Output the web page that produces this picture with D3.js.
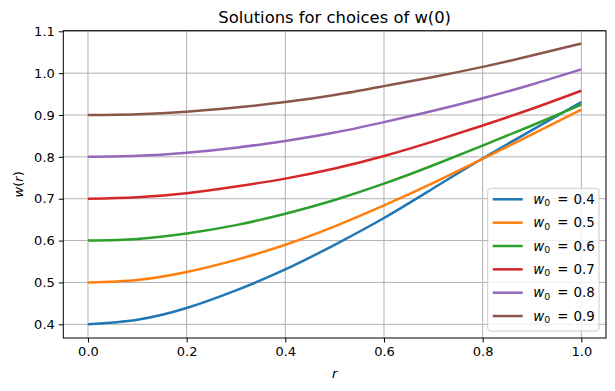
<!DOCTYPE html>
<html>
<head>
<meta charset="utf-8">
<script src="https://cdn.jsdelivr.net/npm/d3@7"></script>
<style>
body { margin: 0; background: #fff; }
svg { font-family: "DejaVu Sans", sans-serif; }
</style>
</head>
<body>
<script>
var width = 615;
var height = 391;

// r samples and the solution curves
var rValues = [0, 0.1, 0.2, 0.3, 0.4, 0.5, 0.6, 0.7, 0.8, 0.9, 1.0];
var w04 = [0.400, 0.411, 0.439, 0.481, 0.531, 0.590, 0.654, 0.725, 0.796, 0.864, 0.931];
var w05 = [0.500, 0.506, 0.525, 0.554, 0.590, 0.634, 0.684, 0.738, 0.795, 0.854, 0.913];
var w06 = [0.600, 0.604, 0.617, 0.637, 0.664, 0.697, 0.736, 0.780, 0.827, 0.875, 0.925];
var w07 = [0.700, 0.7035, 0.713, 0.729, 0.748, 0.772, 0.802, 0.837, 0.875, 0.915, 0.958];
var w08 = [0.800, 0.8025, 0.810, 0.822, 0.838, 0.858, 0.883, 0.910, 0.940, 0.973, 1.009];
var w09 = [0.900, 0.902, 0.908, 0.918, 0.931, 0.948, 0.969, 0.991, 1.015, 1.042, 1.071];

var startValues = ["0.4", "0.5", "0.6", "0.7", "0.8", "0.9"];
var seriesValues = [w04, w05, w06, w07, w08, w09];
var colors = ["#1f77b4", "#ff7f0e", "#2ca02c", "#d62728", "#9467bd", "#8c564b"];

var xTicks = [0, 0.2, 0.4, 0.6, 0.8, 1.0];
var yTicks = [0.4, 0.5, 0.6, 0.7, 0.8, 0.9, 1.0, 1.1];

var margin = {left: 63.3, right: 9, top: 30.7, bottom: 53};

var x = d3.scaleLinear()
    .domain([-0.05, 1.05])
    .range([margin.left, width - margin.right]);
var y = d3.scaleLinear()
    .domain([0.3673, 1.1014])
    .range([height - margin.bottom, margin.top]);

var svg = d3.select("body").append("svg")
    .attr("width", width)
    .attr("height", height);

// grid
svg.append("g").selectAll("line")
    .data(xTicks)
    .enter().append("line")
    .attr("x1", function (d) { return x(d); })
    .attr("x2", function (d) { return x(d); })
    .attr("y1", y.range()[0])
    .attr("y2", y.range()[1])
    .attr("stroke", "#b0b0b0")
    .attr("stroke-width", 1);
svg.append("g").selectAll("line")
    .data(yTicks)
    .enter().append("line")
    .attr("y1", function (d) { return y(d); })
    .attr("y2", function (d) { return y(d); })
    .attr("x1", x.range()[0])
    .attr("x2", x.range()[1])
    .attr("stroke", "#b0b0b0")
    .attr("stroke-width", 1);

// curves
var line = d3.line()
    .x(function (d, i) { return x(rValues[i]); })
    .y(function (d) { return y(d); })
    .curve(d3.curveNatural);

svg.append("g").selectAll("path")
    .data(seriesValues)
    .enter().append("path")
    .attr("d", line)
    .attr("fill", "none")
    .attr("stroke", function (d, i) { return colors[i]; })
    .attr("stroke-width", 2.5);

// axes
var xAxis = svg.append("g")
    .attr("transform", "translate(0," + y.range()[0] + ")")
    .call(d3.axisBottom(x).tickValues(xTicks).tickFormat(d3.format(".1f")).tickSize(4.5).tickPadding(4));
var yAxis = svg.append("g")
    .attr("transform", "translate(" + x.range()[0] + ",0)")
    .call(d3.axisLeft(y).tickValues(yTicks).tickFormat(d3.format(".1f")).tickSize(4.5).tickPadding(4));
[xAxis, yAxis].forEach(function (a) {
    a.select(".domain").remove();
    a.selectAll("text")
	.attr("fill", "#000")
	.style("font-size", "13px")
	.style("font-family", "DejaVu Sans");
    a.selectAll("line").attr("stroke", "#000").attr("stroke-width", 1);
});

// frame
svg.append("rect")
    .attr("x", x.range()[0])
    .attr("y", y.range()[1])
    .attr("width", x.range()[1] - x.range()[0])
    .attr("height", y.range()[0] - y.range()[1])
    .attr("fill", "none")
    .attr("stroke", "#000")
    .attr("stroke-width", 1);

// title and labels
svg.append("text")
    .attr("x", (x.range()[0] + x.range()[1]) / 2)
    .attr("y", 23)
    .attr("text-anchor", "middle")
    .style("font-size", "16.4px")
    .text("Solutions for choices of w(0)");

svg.append("text")
    .attr("x", (x.range()[0] + x.range()[1]) / 2)
    .attr("y", 378)
    .attr("text-anchor", "middle")
    .style("font-size", "13px")
    .style("font-style", "italic")
    .text("r");

var ylab = svg.append("text")
    .attr("transform", "translate(23," + ((y.range()[0] + y.range()[1]) / 2) + ") rotate(-90)")
    .attr("text-anchor", "middle")
    .style("font-size", "13px");
ylab.append("tspan").style("font-style", "italic").text("w");
ylab.append("tspan").text("(");
ylab.append("tspan").style("font-style", "italic").text("r");
ylab.append("tspan").text(")");

// legend
var legend = svg.append("g");
legend.append("rect")
    .attr("x", 487.7)
    .attr("y", 188.3)
    .attr("width", 111.3)
    .attr("height", 142.7)
    .attr("rx", 3)
    .attr("fill", "#fff")
    .attr("fill-opacity", 0.8)
    .attr("stroke", "#cccccc")
    .attr("stroke-width", 1);

var rows = legend.selectAll("g.row")
    .data(startValues)
    .enter().append("g")
    .attr("class", "row")
    .attr("transform", function (d, i) { return "translate(0," + (199.3 + i * 23.35) + ")"; });
rows.append("line")
    .attr("x1", 492.7)
    .attr("x2", 522.7)
    .attr("stroke", function (d, i) { return colors[i]; })
    .attr("stroke-width", 2.5);
var lt = rows.append("text")
    .attr("x", 533.3)
    .attr("y", 4.5)
    .style("font-size", "13.4px");
lt.append("tspan").style("font-style", "italic").text("w");
lt.append("tspan").attr("dy", 2.5).style("font-size", "9.4px").text("0");
lt.append("tspan").attr("dy", -2.5).attr("dx", 7).text("=");
lt.append("tspan").attr("dx", 5).text(function (d) { return d; });
</script>
</body>
</html>
